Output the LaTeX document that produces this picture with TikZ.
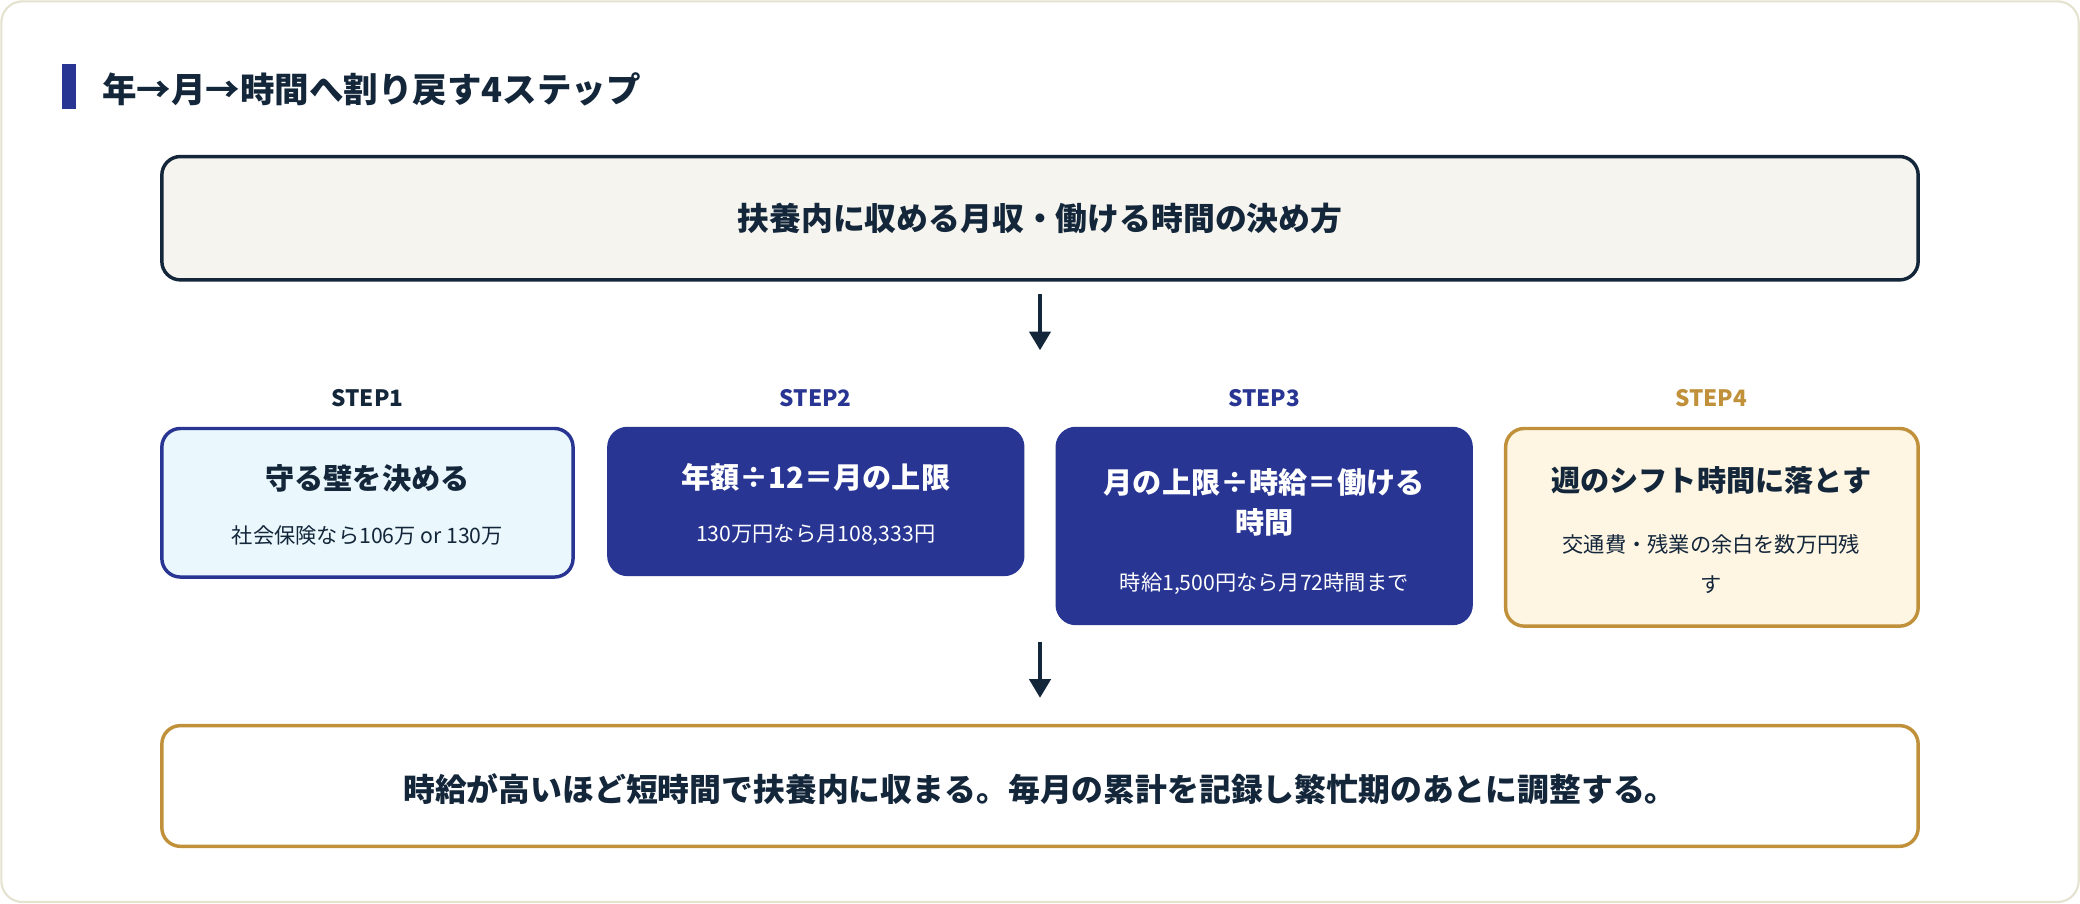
\documentclass[tikz,border=0pt]{standalone}
\usepackage{fontspec}
\setmainfont{Noto Sans CJK JP}
\usetikzlibrary{arrows.meta}
\definecolor{navy}{HTML}{13263A}
\definecolor{blu}{HTML}{283593}
\definecolor{gold}{HTML}{C0913A}
\definecolor{lblue}{HTML}{EAF7FC}
\definecolor{cream}{HTML}{FEF5E3}
\definecolor{gray}{HTML}{F5F4EF}
\definecolor{edge}{HTML}{E5E2D0}
\begin{document}
\begin{tikzpicture}[x=0.5pt,y=-0.5pt,
  box/.style={rounded corners=7pt,line width=1.3pt},
  arr/.style={navy,line width=1.3pt,-{Triangle[length=7pt,width=8pt]}},
  lab/.style={font=\fontsize{8.5}{10}\selectfont\bfseries},
  ttl/.style={font=\fontsize{11}{14}\selectfont\bfseries,align=center},
  sub/.style={font=\fontsize{8}{15}\selectfont,align=center}]
\useasboundingbox (0,0) rectangle (1568,681);
\draw[edge,fill=white,rounded corners=8pt,line width=0.8pt] (1,1) rectangle (1567,680);
\fill[blu] (47,48) rectangle (57,82);
\node[anchor=west,navy,font=\fontsize{13}{16}\selectfont\bfseries] (title) at (70,67) {年→月→時間へ割り戻す4ステップ};
\draw[box,navy,fill=gray] (122,118) rectangle (1446,211);
\node[navy,font=\fontsize{12}{15}\selectfont\bfseries] (top) at (784,165) {扶養内に収める月収・働ける時間の決め方};
\coordinate (a1) at (784,222); \coordinate (a2) at (784,264);
\draw[arr] (a1) -- (a2);
\node[lab,navy] (l1) at (277,300) {STEP1};
\node[lab,blu] (l2) at (615,300) {STEP2};
\node[lab,blu] (l3) at (953,300) {STEP3};
\node[lab,gold] (l4) at (1290,300) {STEP4};
\draw[box,blu,fill=lblue] (122,323) rectangle (432,435);
\node[ttl,navy] (b1) at (277,361) {守る壁を決める};
\node[sub,navy] (s1) at (277,404) {社会保険なら106万 or 130万};
\draw[box,blu,fill=blu] (459,323) rectangle (771,433);
\node[ttl,white] (b2) at (615,360) {年額÷12＝月の上限};
\node[sub,white] (s2) at (615,403) {130万円なら月108,333円};
\draw[box,blu,fill=blu] (797,323) rectangle (1109,470);
\node[ttl,white] (b3) at (953,379) {月の上限÷時給＝働ける\\[1pt]時間};
\node[sub,white] (s3) at (953,440) {時給1,500円なら月72時間まで};
\draw[box,gold,fill=cream] (1135,323) rectangle (1446,472);
\node[ttl,navy] (b4) at (1290,362) {週のシフト時間に落とす};
\node[sub,navy] (s4) at (1290,425) {交通費・残業の余白を数万円残\\す};
\coordinate (c1) at (784,484); \coordinate (c2) at (784,526);
\draw[arr] (c1) -- (c2);
\draw[box,gold,fill=white] (122,547) rectangle (1446,638);
\node[navy,font=\fontsize{12}{15}\selectfont\bfseries] (bot) at (784,595) {時給が高いほど短時間で扶養内に収まる。毎月の累計を記録し繁忙期のあとに調整する。};
\end{tikzpicture}
\end{document}
